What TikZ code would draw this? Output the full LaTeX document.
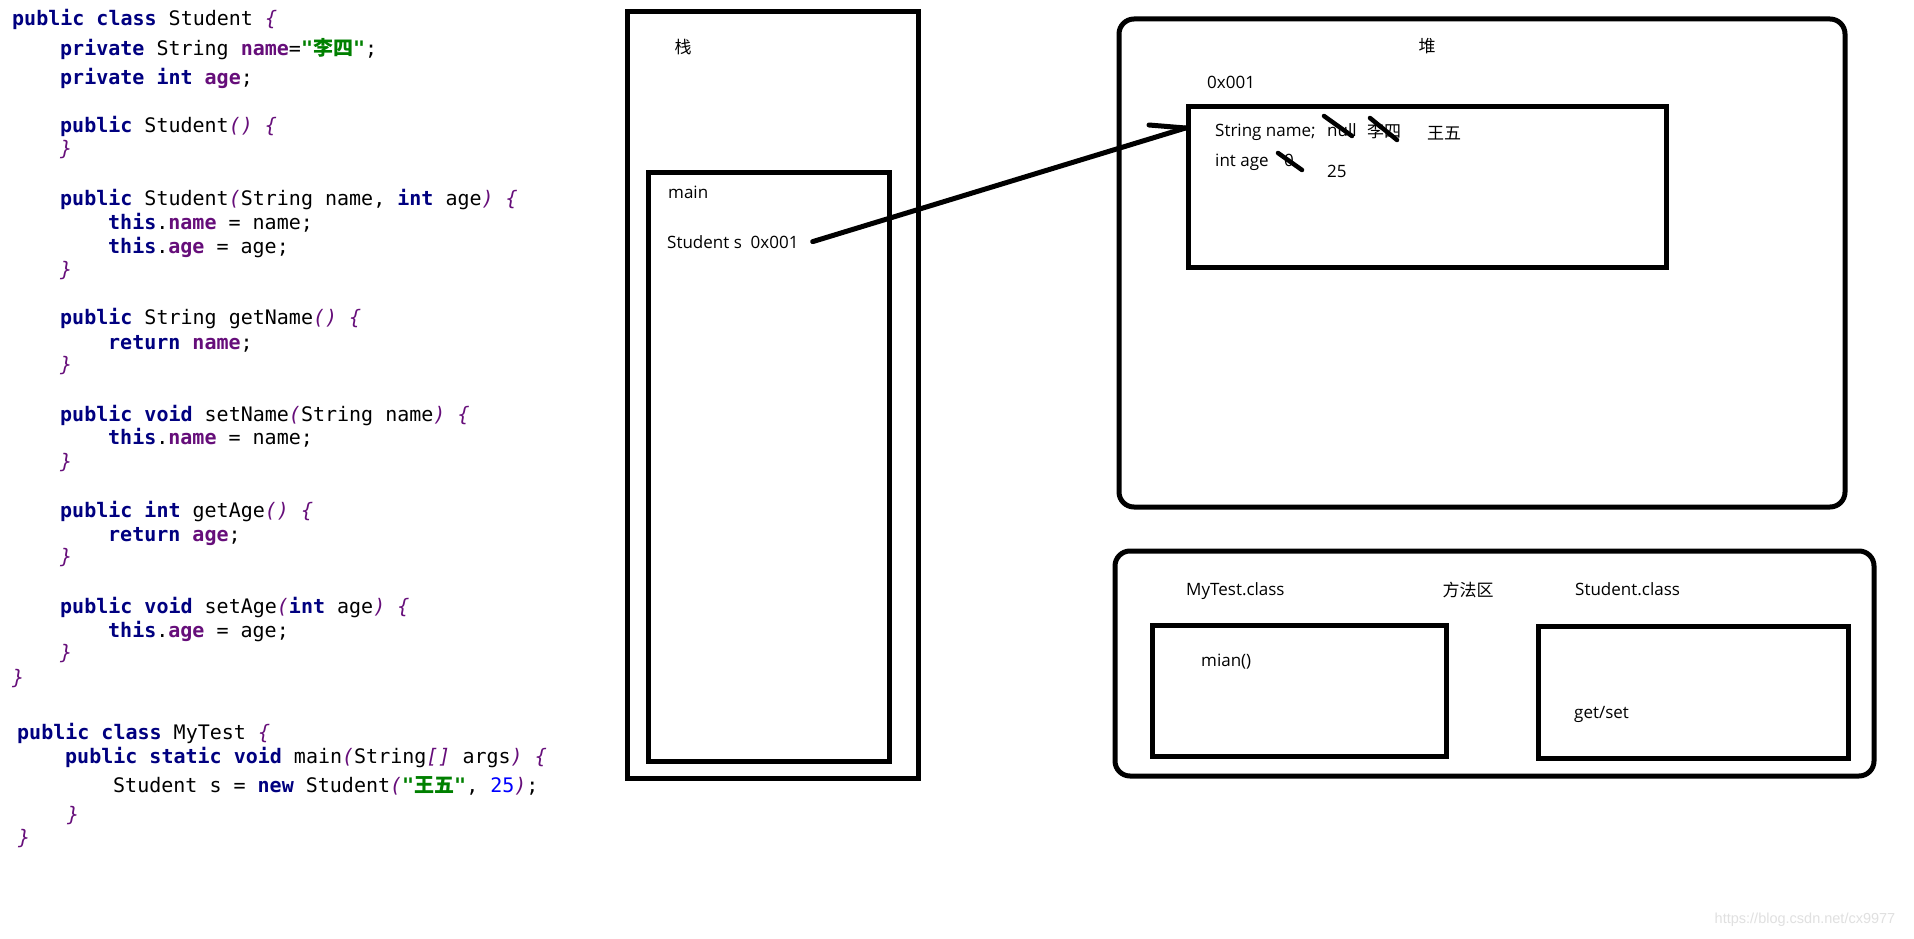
\documentclass[tikz,border=0pt]{standalone}
\usepackage{fontspec}
\usepackage{tikz}
\setmainfont{Open Sans}
\setmonofont{DejaVu Sans Mono}
\newfontfamily\cjk{Noto Sans CJK SC}
\newfontfamily\wmfont{Liberation Sans}
\definecolor{kwblue}{HTML}{000080}
\definecolor{fldpurple}{HTML}{660E7A}
\definecolor{strgreen}{HTML}{008000}
\definecolor{numblue}{HTML}{0000FF}
\newcommand\codefont{\ttfamily\frenchspacing\fontsize{20}{24}\selectfont}
\newcommand\lblfont{\fontsize{17}{20}\selectfont}
\newcommand\kw[1]{{\color{kwblue}\bfseries #1}}
\newcommand\fld[1]{{\color{fldpurple}\bfseries #1}}
\newcommand\jstr[1]{{\color{strgreen}\bfseries #1}}
\newcommand\jnum[1]{{\color{numblue}#1}}
\newcommand\brk[1]{{\color{fldpurple}\itshape #1}}

\begin{document}
\begin{tikzpicture}[x=1pt, y=-1pt,
  area/.style={draw, line width=5pt, inner sep=0pt},
  roundarea/.style={area, rounded corners=15pt},
  codeline/.style={anchor=base west, inner sep=0pt, font=\codefont},
  lbl/.style={anchor=base west, inner sep=0pt, font=\lblfont},
  cjklbl/.style={inner sep=0pt, font=\cjk\lblfont},
  wire/.style={line width=5pt, line cap=round},
  strike/.style={line width=4.5pt, line cap=round}]
\path[fill=white, use as bounding box] (0,0) rectangle (1914,939);

% Student class source
\node[codeline] (c1) at (12,26) {\kw{public class} Student \brk{\{}};
\node[codeline] (c2) at (60,56) {\kw{private} String \fld{name}=\jstr{"{\cjk 李四}"};};
\node[codeline] (c3) at (60,85) {\kw{private int} \fld{age};};
\node[codeline] (c4) at (60,133) {\kw{public} Student\brk{()} \brk{\{}};
\node[codeline] (c5) at (60,156) {\brk{\}}};
\node[codeline] (c6) at (60,205) {\kw{public} Student\brk{(}String name, \kw{int} age\brk{)} \brk{\{}};
\node[codeline] (c7) at (108,229) {\kw{this}.\fld{name} = name;};
\node[codeline] (c8) at (108,253) {\kw{this}.\fld{age} = age;};
\node[codeline] (c9) at (60,276) {\brk{\}}};
\node[codeline] (c10) at (60,324) {\kw{public} String getName\brk{()} \brk{\{}};
\node[codeline] (c11) at (108,349) {\kw{return} \fld{name};};
\node[codeline] (c12) at (60,371) {\brk{\}}};
\node[codeline] (c13) at (60,421) {\kw{public void} setName\brk{(}String name\brk{)} \brk{\{}};
\node[codeline] (c14) at (108,444) {\kw{this}.\fld{name} = name;};
\node[codeline] (c15) at (60,468) {\brk{\}}};
\node[codeline] (c16) at (60,517) {\kw{public int} getAge\brk{()} \brk{\{}};
\node[codeline] (c17) at (108,541) {\kw{return} \fld{age};};
\node[codeline] (c18) at (60,563) {\brk{\}}};
\node[codeline] (c19) at (60,613) {\kw{public void} setAge\brk{(}\kw{int} age\brk{)} \brk{\{}};
\node[codeline] (c20) at (108,637) {\kw{this}.\fld{age} = age;};
\node[codeline] (c21) at (60,659) {\brk{\}}};
\node[codeline] (c22) at (12,684) {\brk{\}}};

% MyTest class source
\node[codeline] (t1) at (17,739) {\kw{public class} MyTest \brk{\{}};
\node[codeline] (t2) at (65,763) {\kw{public static void} main\brk{(}String\brk{[]} args\brk{)} \brk{\{}};
\node[codeline] (t3) at (113,792) {Student s = \kw{new} Student\brk{(}\jstr{"{\cjk 王五}"}, \jnum{25}\brk{)};};
\node[codeline] (t4) at (67,821) {\brk{\}}};
\node[codeline] (t5) at (18,844) {\brk{\}}};

% stack
\node[area, minimum width=291pt, minimum height=766pt] (stack) at (772.5,395) {};
\node[cjklbl] (stacktitle) at (683,47) {栈};
\node[area, minimum width=241pt, minimum height=589pt] (mainframe) at (768.5,466.5) {};
\node[lbl] (mainname) at (668,198) {main};
\node[lbl] (ref) at (667,248) {Student s\ \ 0x001};

% heap
\node[roundarea, minimum width=726pt, minimum height=488pt] (heap) at (1482,263) {};
\node[cjklbl] (heaptitle) at (1427,46) {堆};
\node[lbl] (addr) at (1207,89) {0x001};
\node[area, minimum width=478pt, minimum height=160pt] (obj) at (1427,187) {};
\node[lbl] (fname) at (1215,136) {String name;};
\node[lbl] (vnull) at (1327,136) {null};
\node[cjklbl] (vlisi) at (1384,131) {李四};
\node[cjklbl] (vwangwu) at (1444,133) {王五};
\node[lbl] (fage) at (1215,166) {int age};
\node[lbl] (vzero) at (1284,166) {0};
\node[lbl] (vage) at (1327,177) {25};
\draw[strike] (1324,116) -- (1352,136);
\draw[strike] (1370,118) -- (1397,140);
\draw[strike] (1278,153) -- (1302,170);

% reference s -> object
\coordinate (tip) at ([yshift=59pt]obj.west);
\coordinate (barb) at (1149,125);
\draw[wire] ([xshift=14pt]ref.east) -- (tip);
\draw[wire] (barb) -- (tip);

% method area
\node[roundarea, minimum width=759pt, minimum height=225pt] (methods) at (1494.5,663.5) {};
\node[lbl] (mytestcls) at (1186,595) {MyTest.class};
\node[cjklbl] (methtitle) at (1468,590) {方法区};
\node[lbl] (studentcls) at (1575,595) {Student.class};
\node[area, minimum width=294pt, minimum height=131pt] (mytestbox) at (1299,690.5) {};
\node[lbl] (mainmeth) at (1201,666) {mian()};
\node[area, minimum width=310pt, minimum height=132pt] (studentbox) at (1693,692) {};
\node[lbl] (getset) at (1574,718) {get/set};

\node[font=\wmfont\fontsize{14.5}{16}\selectfont, text=black!12, inner sep=0pt] (mark) at (1805,920) {https://blog.csdn.net/cx9977};
\end{tikzpicture}
\end{document}
